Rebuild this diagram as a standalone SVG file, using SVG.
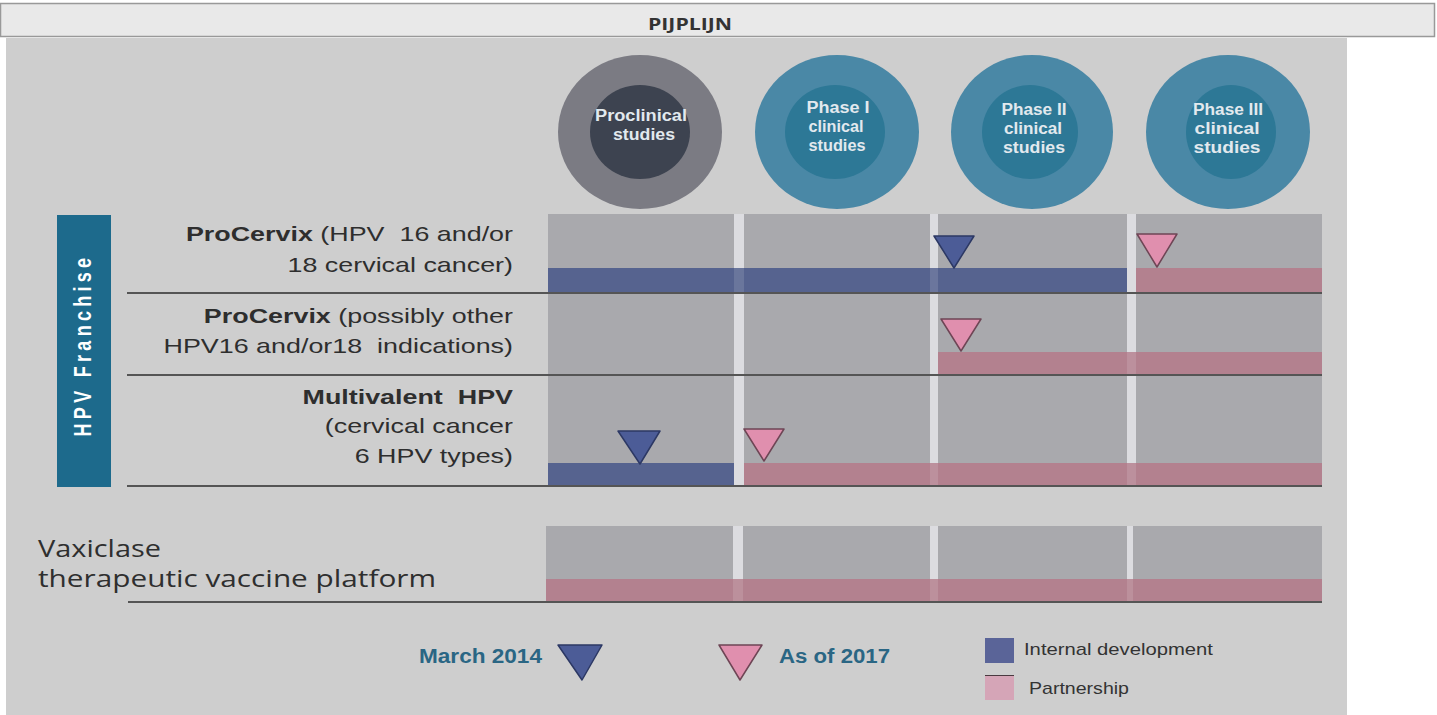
<svg xmlns="http://www.w3.org/2000/svg" width="1437" height="715" viewBox="0 0 1437 715">
  <style>
    .hdr { font-family: "Open Sans", "Liberation Sans", sans-serif; font-weight: 700; font-size: 16px; fill: #333333; }
    .stage { font-family: "Liberation Sans", Arial, sans-serif; font-weight: 700; font-size: 16px; fill: #e2e9ee; text-anchor: middle; }
    .lbl { font-family: "Liberation Sans", Arial, sans-serif; font-size: 21px; fill: #2e2e2e; text-anchor: end; white-space: pre; }
    .lbl .b { font-weight: 700; }
    .vax { font-family: "Open Sans", "Liberation Sans", sans-serif; font-size: 24px; fill: #2f2f2f; }
    .key { font-family: "Liberation Sans", Arial, sans-serif; font-weight: 700; font-size: 20px; fill: #2a6684; }
    .keytxt { font-family: "Liberation Sans", Arial, sans-serif; font-size: 17px; fill: #333333; }
    .cell { fill: #a9a9ad; }
    .gap { fill: #dcdce0; }
    .internal { fill: #56638f; }
    .partner { fill: #b3818f; }
    .rule { stroke: #555555; stroke-width: 2; }
    .mk-int { fill: #4c5c97; stroke: #2c3864; stroke-width: 1.5; stroke-linejoin: round; }
    .mk-par { fill: #e08fae; stroke: #6e4555; stroke-width: 1.5; stroke-linejoin: round; }
  </style>

  <!-- title bar -->
  <g id="title">
    <rect x="0.5" y="3.5" width="1434" height="33" fill="#e9e9e9" stroke="#999999" stroke-width="1.5"/>
    <text class="hdr" x="648" y="30" textLength="84" lengthAdjust="spacingAndGlyphs">PIJPLIJN</text>
  </g>

  <!-- panel background -->
  <rect x="6" y="38" width="1341" height="677" fill="#cecece"/>

  <!-- stage headers -->
  <g id="stage-preclinical">
    <ellipse cx="640" cy="132" rx="82" ry="77" fill="#7b7b83"/>
    <ellipse cx="640" cy="132" rx="50" ry="47" fill="#3d4350"/>
    <text class="stage" x="641" y="121" textLength="92" lengthAdjust="spacingAndGlyphs">Proclinical</text>
    <text class="stage" x="644" y="140" textLength="62" lengthAdjust="spacingAndGlyphs">studies</text>
  </g>
  <g id="stage-phase1">
    <ellipse cx="837" cy="132" rx="82" ry="77" fill="#4a88a6"/>
    <ellipse cx="835" cy="132" rx="50" ry="47" fill="#2d7896"/>
    <text class="stage" x="838" y="113" textLength="63" lengthAdjust="spacingAndGlyphs">Phase I</text>
    <text class="stage" x="836" y="132" textLength="55" lengthAdjust="spacingAndGlyphs">clinical</text>
    <text class="stage" x="837" y="151" textLength="57" lengthAdjust="spacingAndGlyphs">studies</text>
  </g>
  <g id="stage-phase2">
    <ellipse cx="1032" cy="132" rx="81" ry="77" fill="#4a88a6"/>
    <ellipse cx="1030" cy="132" rx="48" ry="47" fill="#2d7896"/>
    <text class="stage" x="1034" y="115" textLength="65" lengthAdjust="spacingAndGlyphs">Phase II</text>
    <text class="stage" x="1033" y="134" textLength="58" lengthAdjust="spacingAndGlyphs">clinical</text>
    <text class="stage" x="1034" y="153" textLength="62" lengthAdjust="spacingAndGlyphs">studies</text>
  </g>
  <g id="stage-phase3">
    <ellipse cx="1228" cy="132" rx="82" ry="77" fill="#4a88a6"/>
    <ellipse cx="1231" cy="132" rx="45" ry="47" fill="#2d7896"/>
    <text class="stage" x="1228" y="115" textLength="70" lengthAdjust="spacingAndGlyphs">Phase III</text>
    <text class="stage" x="1227" y="134" textLength="65" lengthAdjust="spacingAndGlyphs">clinical</text>
    <text class="stage" x="1227" y="153" textLength="67" lengthAdjust="spacingAndGlyphs">studies</text>
  </g>

  <!-- HPV franchise grid -->
  <g id="hpv-grid">
    <rect class="gap" x="548" y="214" width="774" height="272"/>
    <rect class="cell" x="548" y="214" width="186" height="272"/>
    <rect class="cell" x="744" y="214" width="186" height="272"/>
    <rect class="cell" x="938" y="214" width="189" height="272"/>
    <rect class="cell" x="1136" y="214" width="186" height="272"/>
  </g>

  <g id="hpv-franchise">
    <rect x="57" y="215" width="54" height="272" fill="#1d6a8c"/>
    <text transform="translate(91 345) scale(1.3 1) rotate(-90)" text-anchor="middle"
          font-family="Liberation Sans, Arial, sans-serif" font-weight="700" font-size="18" letter-spacing="4.3" fill="#ffffff">HPV Franchise</text>
  </g>

  <!-- row: ProCervix HPV 16/18 cervical cancer -->
  <g id="row-procervix-cc">
    <g transform="translate(513 0) scale(1.28 1)">
      <text class="lbl" x="0" y="241" xml:space="preserve"><tspan class="b">ProCervix</tspan> (HPV  16 and/or</text>
      <text class="lbl" x="0" y="272">18 cervical cancer)</text>
    </g>
    <rect class="internal" x="548" y="268" width="579" height="25"/>
    <rect class="partner" x="1136" y="268" width="186" height="25"/>
    <polygon class="mk-int" points="934,236 974,236 954,268"/>
    <polygon class="mk-par" points="1137,234 1177,234 1157,267"/>
  </g>

  <!-- row: ProCervix other indications -->
  <g id="row-procervix-other">
    <g transform="translate(513 0) scale(1.28 1)">
      <text class="lbl" x="0" y="323"><tspan class="b">ProCervix</tspan> (possibly other</text>
      <text class="lbl" x="0" y="353" xml:space="preserve">HPV16 and/or18  indications)</text>
    </g>
    <rect class="partner" x="938" y="352" width="384" height="23"/>
    <polygon class="mk-par" points="941,319 981,319 961,351"/>
  </g>

  <!-- row: Multivalent HPV -->
  <g id="row-multivalent">
    <g transform="translate(513 0) scale(1.28 1)">
      <text class="lbl" x="0" y="404" font-weight="700" xml:space="preserve">Multivalent  HPV</text>
      <text class="lbl" x="0" y="433">(cervical cancer</text>
      <text class="lbl" x="0" y="463">6 HPV types)</text>
    </g>
    <rect class="internal" x="548" y="463" width="186" height="23"/>
    <rect class="partner" x="744" y="463" width="578" height="23"/>
    <polygon class="mk-int" points="618,431 660,431 640,464"/>
    <polygon class="mk-par" points="744,429 784,429 764,461"/>
  </g>

  <!-- gaps show faintly through the bars -->
  <g fill="#ffffff" opacity="0.12">
    <rect x="734" y="268" width="10" height="25"/>
    <rect x="930" y="268" width="8" height="25"/>
    <rect x="1127" y="352" width="9" height="23"/>
    <rect x="930" y="463" width="8" height="23"/>
    <rect x="1127" y="463" width="9" height="23"/>
  </g>

  <!-- row separators -->
  <g id="row-rules">
    <line class="rule" x1="127" y1="293" x2="1322" y2="293"/>
    <line class="rule" x1="127" y1="375" x2="1322" y2="375"/>
    <line class="rule" x1="127" y1="486" x2="1322" y2="486"/>
  </g>

  <!-- row: Vaxiclase platform -->
  <g id="row-vaxiclase">
    <rect class="gap" x="546" y="526" width="776" height="76"/>
    <rect class="cell" x="546" y="526" width="187" height="76"/>
    <rect class="cell" x="743" y="526" width="187" height="76"/>
    <rect class="cell" x="938" y="526" width="189" height="76"/>
    <rect class="cell" x="1133" y="526" width="189" height="76"/>
    <rect class="partner" x="546" y="579" width="776" height="23"/>
    <g fill="#ffffff" opacity="0.12">
      <rect x="733" y="579" width="10" height="23"/>
      <rect x="930" y="579" width="8" height="23"/>
      <rect x="1127" y="579" width="6" height="23"/>
    </g>
    <line class="rule" x1="128" y1="602" x2="1322" y2="602"/>
    <text class="vax" x="38" y="557" textLength="123" lengthAdjust="spacingAndGlyphs">Vaxiclase</text>
    <text class="vax" x="38" y="587" textLength="398" lengthAdjust="spacingAndGlyphs">therapeutic vaccine platform</text>
  </g>

  <!-- legend -->
  <g id="legend">
    <text class="key" x="419" y="663" textLength="123" lengthAdjust="spacingAndGlyphs">March 2014</text>
    <polygon class="mk-int" points="558,645 602,645 582,680"/>
    <polygon class="mk-par" points="719,645 762,645 740,680"/>
    <text class="key" x="779" y="663" textLength="111" lengthAdjust="spacingAndGlyphs">As of 2017</text>
    <rect x="985" y="638" width="29" height="25" fill="#5a6498"/>
    <rect x="985" y="675" width="29" height="25" fill="#d5a5b7"/>
    <line x1="985" y1="675.5" x2="1014" y2="675.5" stroke="#4a3a40" stroke-width="1"/>
    <text class="keytxt" x="1024" y="655" textLength="189" lengthAdjust="spacingAndGlyphs">Internal development</text>
    <text class="keytxt" x="1029" y="694" textLength="100" lengthAdjust="spacingAndGlyphs">Partnership</text>
  </g>
</svg>
